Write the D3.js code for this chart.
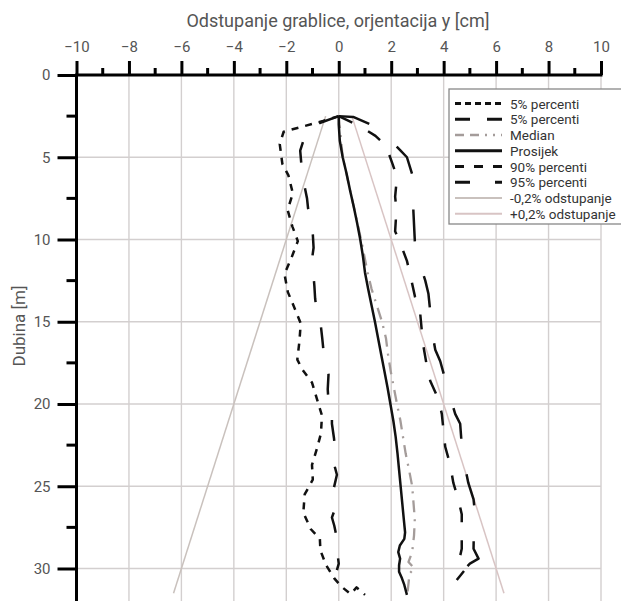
<!DOCTYPE html>
<html>
<head>
<meta charset="utf-8">
<script src="https://cdn.jsdelivr.net/npm/d3@7"></script>
<style>
  html, body { margin: 0; padding: 0; background: #fff; }
  svg { display: block; }
  text { font-family: Roboto, "Open Sans", sans-serif; }
</style>
</head>
<body>
<svg id="chart" width="621" height="601"></svg>
<script>
// Horizontal offset of the rake (cm) against depth (m)
const xTicks = [-10, -8, -6, -4, -2, 0, 2, 4, 6, 8, 10];
const yTicks = [0, 5, 10, 15, 20, 25, 30];

const p5Depth  = [2.5, 2.8, 3.1, 3.45, 4.2, 5.4, 6.1, 7.2, 8.2, 9.2, 10.1, 11.1, 12.1, 13.2, 14, 15.1, 16.2, 17.3, 17.9, 18.7, 19.7, 20.7, 21.8, 22.7, 23.7, 24.6, 25.5, 26.6, 27.6, 28.2, 28.9, 29.8, 30.6, 31.1, 31.55, 31.15, 31.6];
const p5Offset = [0, -0.6, -1.3, -2.1, -2.25, -2.15, -1.92, -1.75, -1.95, -1.77, -1.56, -1.8, -2.07, -1.94, -1.73, -1.45, -1.5, -1.58, -1.39, -1.02, -0.83, -0.64, -0.68, -0.83, -1.02, -0.99, -1.3, -1.35, -1.07, -0.72, -0.7, -0.48, -0.17, 0.1, 0.45, 0.68, 1.0];

const p5bDepth  = [2.5, 2.9, 3.5, 4.6, 5.9, 6.8, 7.5, 8.1, 8.8, 10.5, 11.2, 11.9, 12.8, 13.6, 14.5, 15.0, 16, 16.8, 17.4, 18.2, 19.1, 19.9, 20.5, 21.2, 22.1, 22.9, 23.7, 24.3, 25.2, 26, 26.5, 26.9, 27.4, 28.1, 28.7, 29.2, 29.7, 30.1];
const p5bOffset = [0, -0.7, -1.25, -1.47, -1.4, -1.3, -1.21, -1.17, -1.02, -0.96, -1.02, -0.98, -0.93, -0.9, -0.83, -0.7, -0.63, -0.58, -0.51, -0.39, -0.42, -0.39, -0.26, -0.26, -0.18, -0.13, -0.17, -0.07, -0.2, -0.26, -0.17, -0.26, -0.17, -0.08, 0, -0.04, 0, -0.07];

const medianDepth  = [2.5, 5, 8, 10, 12, 13, 14, 15, 16, 17, 18, 19, 20, 21, 22, 23, 24, 25, 26, 27, 28, 29, 29.6, 30, 30.3, 31.5];
const medianOffset = [0, 0.15, 0.57, 0.85, 1.1, 1.25, 1.45, 1.65, 1.8, 1.88, 1.98, 2.1, 2.22, 2.35, 2.45, 2.55, 2.68, 2.8, 2.85, 2.9, 2.87, 2.8, 2.66, 2.88, 2.7, 2.62];

const meanDepth  = [2.5, 3, 4, 5, 6, 7, 8, 9, 10, 11, 12, 13, 14, 15, 16, 17, 18, 19, 20, 21, 22, 23, 24, 25, 26, 27, 27.8, 28.2, 28.6, 29, 29.4, 29.8, 30.2, 30.6, 31.0, 31.6];
const meanOffset = [0, 0.0, 0.04, 0.15, 0.3, 0.43, 0.57, 0.7, 0.82, 0.92, 1.0, 1.12, 1.25, 1.38, 1.5, 1.62, 1.74, 1.86, 1.97, 2.08, 2.17, 2.24, 2.3, 2.36, 2.42, 2.48, 2.53, 2.5, 2.33, 2.27, 2.34, 2.3, 2.3, 2.41, 2.5, 2.6];

const p90Depth  = [2.5, 2.8, 3.2, 3.7, 4.3, 5.4, 6.2, 7.4, 8.2, 9.5, 10.2, 11.3, 12.1, 13.5, 14.4, 15.6, 16.5, 17.7, 18.6, 19.7, 20.6, 21.7, 22.6, 23.7, 24.8, 25.8, 26.7, 28.0, 28.8, 29.3, 30.0, 30.7];
const p90Offset = [0, 0.4, 0.9, 1.4, 1.8, 2.05, 2.22, 2.15, 2.2, 2.15, 2.34, 2.6, 2.72, 2.91, 3.1, 3.17, 3.23, 3.36, 3.49, 3.8, 3.93, 4.0, 4.06, 4.25, 4.37, 4.56, 4.69, 4.69, 4.69, 4.62, 4.85, 4.5];

const p95Depth  = [2.5, 2.55, 3.0, 3.4, 4.0, 4.57, 5.0, 6.3, 7.3, 8.4, 10.4, 11.5, 12.5, 13.3, 14.4, 15.5, 16.7, 17.4, 18.5, 19.6, 20.6, 21.2, 22.5, 23.7, 24.8, 25.8, 26.7, 27.8, 28.8, 29.4, 29.7, 30.0, 30.6];
const p95Offset = [0, 0.55, 1.2, 1.65, 2.0, 2.34, 2.6, 2.85, 2.82, 2.85, 2.91, 3.1, 3.3, 3.42, 3.49, 3.55, 3.68, 3.87, 4.06, 4.25, 4.44, 4.63, 4.69, 4.8, 4.94, 5.14, 5.2, 5.15, 5.14, 5.33, 5.0, 4.82, 4.5];

// 0.2 % deviation envelope
const boundDepth   = [2.5, 31.5];
const minusOffset  = [-0.5, -6.3];
const plusOffset   = [0.5, 6.3];

const series = [
  { label: "5% percenti",       depth: p5Depth,     x: p5Offset,     color: "#111", width: 2.5, dash: "7,7",        legendDash: "6,4" },
  { label: "5% percenti",       depth: p5bDepth,    x: p5bOffset,    color: "#111", width: 2.5, dash: "21,26",      legendDash: "15,17" },
  { label: "Median",            depth: medianDepth, x: medianOffset, color: "#a49c9a", width: 2.3, dash: "12,7,2,7", legendDash: "9,6,9,6,2,6,2,6" },
  { label: "Prosijek",          depth: meanDepth,   x: meanOffset,   color: "#111", width: 2.5, dash: null,         legendDash: null },
  { label: "90% percenti",      depth: p90Depth,    x: p90Offset,    color: "#111", width: 2.5, dash: "15,18",      legendDash: "9,10" },
  { label: "95% percenti",      depth: p95Depth,    x: p95Offset,    color: "#111", width: 2.5, dash: "32,36",      legendDash: "15,25,7" },
  { label: "-0,2% odstupanje",  depth: boundDepth,  x: minusOffset,  color: "#c9c1bd", width: 1.5, dash: null,     legendDash: null },
  { label: "+0,2% odstupanje",  depth: boundDepth,  x: plusOffset,   color: "#d8c4c4", width: 1.5, dash: null,     legendDash: null }
];

const svg = d3.select("#chart");
const x = d3.scaleLinear().domain([-10, 10]).range([76.5, 601]);
const y = d3.scaleLinear().domain([0, 32]).range([75, 601.4]);

// grid
const grid = svg.append("g").attr("stroke", "#d3cfcf").attr("stroke-width", 1.4);
grid.selectAll(".gx").data(xTicks.filter(d => d > -10)).join("line")
  .attr("x1", d => x(d)).attr("x2", d => x(d)).attr("y1", y(0)).attr("y2", 601);
grid.selectAll(".gy").data(yTicks.filter(d => d > 0)).join("line")
  .attr("x1", x(-10)).attr("x2", x(10)).attr("y1", d => y(d)).attr("y2", d => y(d));

// curves (envelope lines first so the percentiles sit on top)
const line = d3.line().x(d => x(d[1])).y(d => y(d[0]));
const order = [6, 7, 2, 0, 1, 4, 5, 3];
order.forEach(i => {
  const s = series[i];
  svg.append("path")
    .datum(s.depth.map((d, k) => [d, s.x[k]]))
    .attr("d", line)
    .attr("fill", "none")
    .attr("stroke", s.color)
    .attr("stroke-width", s.width)
    .attr("stroke-linejoin", "round")
    .attr("stroke-dasharray", s.dash);
});

// top axis
const xMinor = d3.range(-9, 10, 2);
const axisX = svg.append("g").attr("transform", `translate(0,${y(0)})`);
axisX.call(d3.axisTop(x).tickValues(xTicks).tickSize(14).tickPadding(9).tickFormat(d3.format("d")));
axisX.call(g => {
  g.select(".domain").remove();
  g.selectAll(".tick line").attr("stroke", "#000").attr("stroke-width", 3);
  g.selectAll(".tick text").attr("fill", "#555").style("font-size", "15px").style("font-family", "Roboto, sans-serif");
});
axisX.selectAll(".minor").data(xMinor).join("line")
  .attr("x1", d => x(d)).attr("x2", d => x(d)).attr("y1", 0).attr("y2", -7)
  .attr("stroke", "#000").attr("stroke-width", 3);

// left axis
const yMinor = d3.range(2.5, 32, 5);
const axisY = svg.append("g").attr("transform", `translate(${x(-10)},0)`);
axisY.call(d3.axisLeft(y).tickValues(yTicks).tickSize(19).tickPadding(7).tickFormat(d3.format("d")));
axisY.call(g => {
  g.select(".domain").remove();
  g.selectAll(".tick line").attr("stroke", "#000").attr("stroke-width", 3);
  g.selectAll(".tick text").attr("fill", "#555").style("font-size", "15px").style("font-family", "Roboto, sans-serif");
});
axisY.selectAll(".minor").data(yMinor).join("line")
  .attr("x1", -10).attr("x2", 0).attr("y1", d => y(d)).attr("y2", d => y(d))
  .attr("stroke", "#000").attr("stroke-width", 3);

// axis lines
svg.append("line").attr("x1", x(-10) - 1.5).attr("x2", x(10) + 1.5).attr("y1", y(0)).attr("y2", y(0))
  .attr("stroke", "#000").attr("stroke-width", 3);
svg.append("line").attr("x1", x(-10)).attr("x2", x(-10)).attr("y1", y(0)).attr("y2", 601)
  .attr("stroke", "#000").attr("stroke-width", 3);

// titles
svg.append("text").attr("x", 338).attr("y", 27).attr("text-anchor", "middle")
  .attr("fill", "#555").style("font-size", "18px")
  .text("Odstupanje grablice, orjentacija y [cm]");
svg.append("text").attr("transform", "translate(25,326) rotate(-90)").attr("text-anchor", "middle")
  .attr("fill", "#555").style("font-size", "17px")
  .text("Dubina [m]");

// legend
const lg = svg.append("g");
lg.append("rect").attr("x", 449).attr("y", 89).attr("width", 180).attr("height", 135)
  .attr("fill", "#fff").attr("stroke", "#888").attr("stroke-width", 1.3);
series.forEach((s, i) => {
  const ly = 103.5 + i * 15.75;
  lg.append("line").attr("x1", 455).attr("x2", 502).attr("y1", ly).attr("y2", ly)
    .attr("stroke", s.color).attr("stroke-width", s.width + 0.3)
    .attr("stroke-dasharray", s.legendDash);
  lg.append("text").attr("x", 510).attr("y", ly + 5)
    .attr("fill", "#333").style("font-size", "13.5px").text(s.label);
});
</script>
</body>
</html>
